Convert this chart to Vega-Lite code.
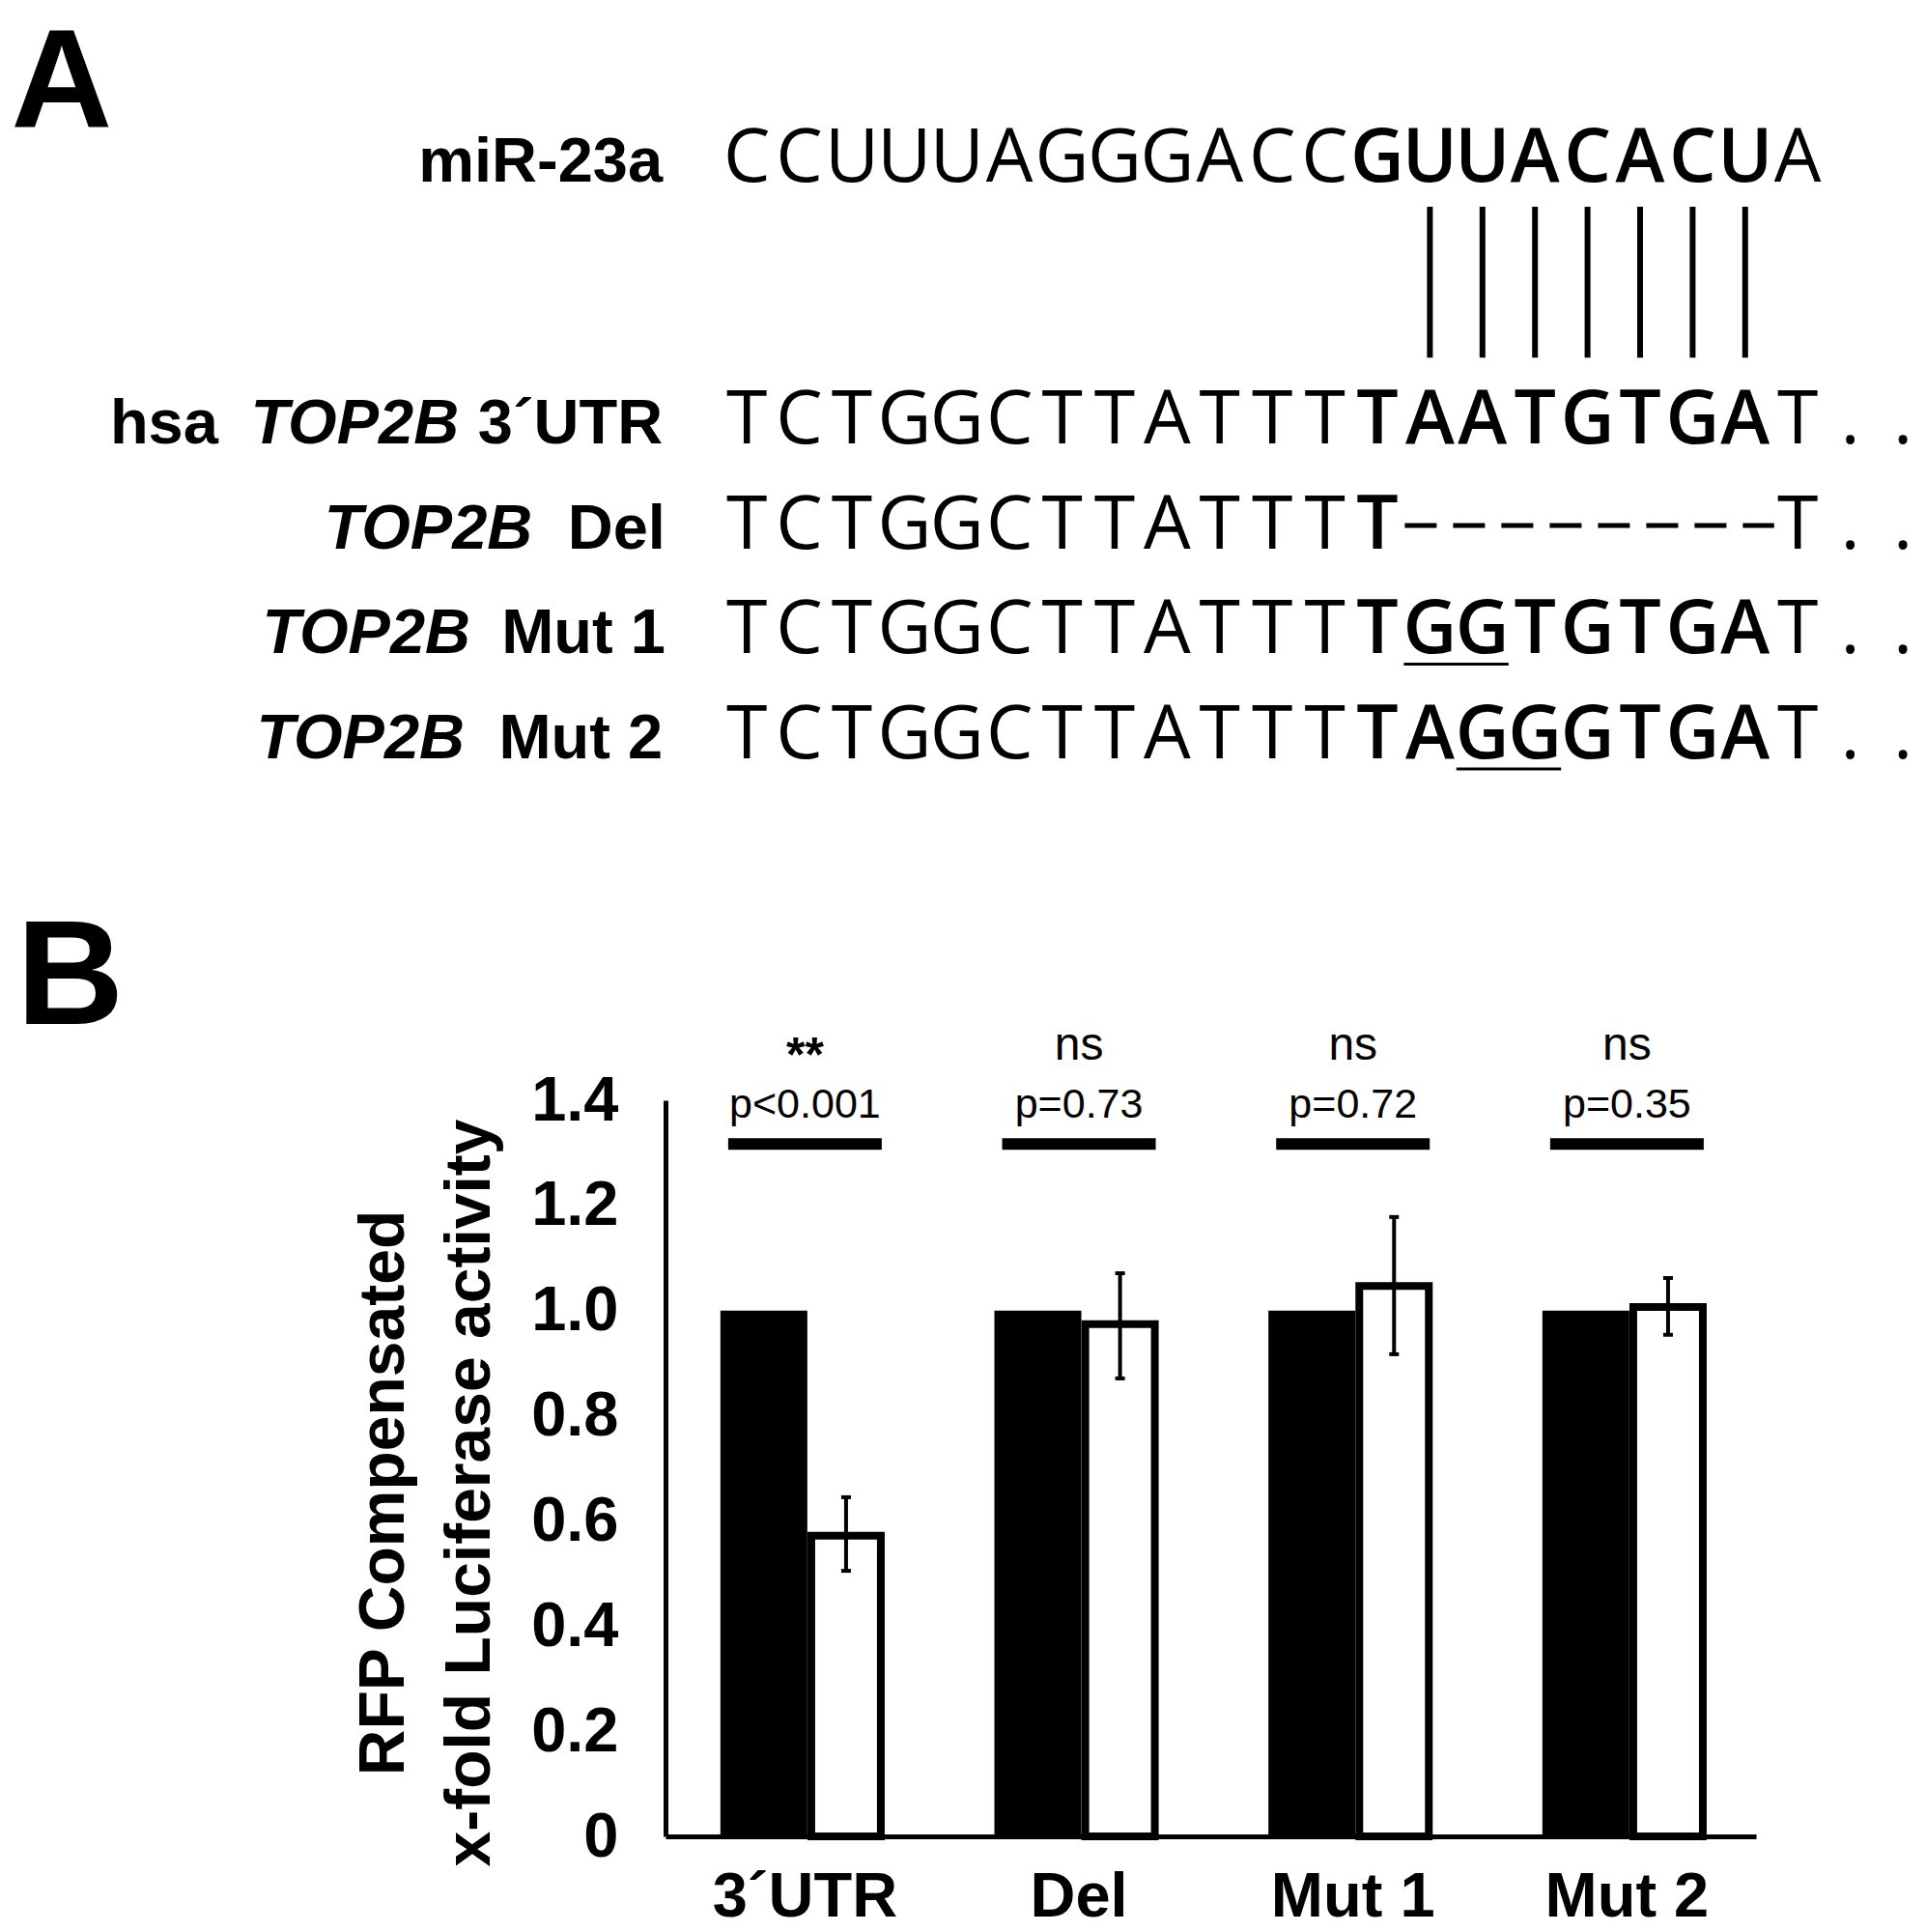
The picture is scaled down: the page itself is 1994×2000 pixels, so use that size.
{
  "$schema": "https://vega.github.io/schema/vega-lite/v6.json",
  "width": 1994,
  "height": 2000,
  "autosize": "none",
  "padding": 0,
  "background": "white",
  "config": {"view": {"stroke": null}, "font": "Liberation Sans"},
  "datasets": {
    "panels": [
      {"panel": "A", "col": -14.0, "line": -0.525, "big": true},
      {"panel": "B", "col": -13.9, "line": 8.03, "big": false}
    ],
    "labels": [
      {"line": 0, "col": -1.6, "label": "miR-23a", "gene": false},
      {"line": 2.5, "col": -10.06, "label": "hsa", "gene": false},
      {"line": 2.5, "col": -5.48, "label": "TOP2B", "gene": true},
      {"line": 2.5, "col": -1.6, "label": "3´UTR", "gene": false},
      {"line": 3.5, "col": -4.08, "label": "TOP2B", "gene": true},
      {"line": 3.5, "col": -1.55, "label": "Del", "gene": false},
      {"line": 4.5, "col": -5.26, "label": "TOP2B", "gene": true},
      {"line": 4.5, "col": -1.55, "label": "Mut 1", "gene": false},
      {"line": 5.5, "col": -5.37, "label": "TOP2B", "gene": true},
      {"line": 5.5, "col": -1.6, "label": "Mut 2", "gene": false}
    ],
    "letters": [
      {"line": 0, "col": 0, "base": "C", "site": false},
      {"line": 0, "col": 1, "base": "C", "site": false},
      {"line": 0, "col": 2, "base": "U", "site": false},
      {"line": 0, "col": 3, "base": "U", "site": false},
      {"line": 0, "col": 4, "base": "U", "site": false},
      {"line": 0, "col": 5, "base": "A", "site": false},
      {"line": 0, "col": 6, "base": "G", "site": false},
      {"line": 0, "col": 7, "base": "G", "site": false},
      {"line": 0, "col": 8, "base": "G", "site": false},
      {"line": 0, "col": 9, "base": "A", "site": false},
      {"line": 0, "col": 10, "base": "C", "site": false},
      {"line": 0, "col": 11, "base": "C", "site": false},
      {"line": 0, "col": 12, "base": "G", "site": true},
      {"line": 0, "col": 13, "base": "U", "site": true},
      {"line": 0, "col": 14, "base": "U", "site": true},
      {"line": 0, "col": 15, "base": "A", "site": true},
      {"line": 0, "col": 16, "base": "C", "site": true},
      {"line": 0, "col": 17, "base": "A", "site": true},
      {"line": 0, "col": 18, "base": "C", "site": true},
      {"line": 0, "col": 19, "base": "U", "site": true},
      {"line": 0, "col": 20, "base": "A", "site": false},

      {"line": 2.5, "col": 0, "base": "T", "site": false},
      {"line": 2.5, "col": 1, "base": "C", "site": false},
      {"line": 2.5, "col": 2, "base": "T", "site": false},
      {"line": 2.5, "col": 3, "base": "G", "site": false},
      {"line": 2.5, "col": 4, "base": "G", "site": false},
      {"line": 2.5, "col": 5, "base": "C", "site": false},
      {"line": 2.5, "col": 6, "base": "T", "site": false},
      {"line": 2.5, "col": 7, "base": "T", "site": false},
      {"line": 2.5, "col": 8, "base": "A", "site": false},
      {"line": 2.5, "col": 9, "base": "T", "site": false},
      {"line": 2.5, "col": 10, "base": "T", "site": false},
      {"line": 2.5, "col": 11, "base": "T", "site": false},
      {"line": 2.5, "col": 12, "base": "T", "site": true},
      {"line": 2.5, "col": 13, "base": "A", "site": true},
      {"line": 2.5, "col": 14, "base": "A", "site": true},
      {"line": 2.5, "col": 15, "base": "T", "site": true},
      {"line": 2.5, "col": 16, "base": "G", "site": true},
      {"line": 2.5, "col": 17, "base": "T", "site": true},
      {"line": 2.5, "col": 18, "base": "G", "site": true},
      {"line": 2.5, "col": 19, "base": "A", "site": true},
      {"line": 2.5, "col": 20, "base": "T", "site": false},
      {"line": 2.5, "col": 21, "base": ".", "site": false},
      {"line": 2.5, "col": 22, "base": ".", "site": false},

      {"line": 3.5, "col": 0, "base": "T", "site": false},
      {"line": 3.5, "col": 1, "base": "C", "site": false},
      {"line": 3.5, "col": 2, "base": "T", "site": false},
      {"line": 3.5, "col": 3, "base": "G", "site": false},
      {"line": 3.5, "col": 4, "base": "G", "site": false},
      {"line": 3.5, "col": 5, "base": "C", "site": false},
      {"line": 3.5, "col": 6, "base": "T", "site": false},
      {"line": 3.5, "col": 7, "base": "T", "site": false},
      {"line": 3.5, "col": 8, "base": "A", "site": false},
      {"line": 3.5, "col": 9, "base": "T", "site": false},
      {"line": 3.5, "col": 10, "base": "T", "site": false},
      {"line": 3.5, "col": 11, "base": "T", "site": false},
      {"line": 3.5, "col": 12, "base": "T", "site": true},
      {"line": 3.5, "col": 20, "base": "T", "site": false},
      {"line": 3.5, "col": 21, "base": ".", "site": false},
      {"line": 3.5, "col": 22, "base": ".", "site": false},

      {"line": 4.5, "col": 0, "base": "T", "site": false},
      {"line": 4.5, "col": 1, "base": "C", "site": false},
      {"line": 4.5, "col": 2, "base": "T", "site": false},
      {"line": 4.5, "col": 3, "base": "G", "site": false},
      {"line": 4.5, "col": 4, "base": "G", "site": false},
      {"line": 4.5, "col": 5, "base": "C", "site": false},
      {"line": 4.5, "col": 6, "base": "T", "site": false},
      {"line": 4.5, "col": 7, "base": "T", "site": false},
      {"line": 4.5, "col": 8, "base": "A", "site": false},
      {"line": 4.5, "col": 9, "base": "T", "site": false},
      {"line": 4.5, "col": 10, "base": "T", "site": false},
      {"line": 4.5, "col": 11, "base": "T", "site": false},
      {"line": 4.5, "col": 12, "base": "T", "site": true},
      {"line": 4.5, "col": 13, "base": "G", "site": true},
      {"line": 4.5, "col": 14, "base": "G", "site": true},
      {"line": 4.5, "col": 15, "base": "T", "site": true},
      {"line": 4.5, "col": 16, "base": "G", "site": true},
      {"line": 4.5, "col": 17, "base": "T", "site": true},
      {"line": 4.5, "col": 18, "base": "G", "site": true},
      {"line": 4.5, "col": 19, "base": "A", "site": true},
      {"line": 4.5, "col": 20, "base": "T", "site": false},
      {"line": 4.5, "col": 21, "base": ".", "site": false},
      {"line": 4.5, "col": 22, "base": ".", "site": false},

      {"line": 5.5, "col": 0, "base": "T", "site": false},
      {"line": 5.5, "col": 1, "base": "C", "site": false},
      {"line": 5.5, "col": 2, "base": "T", "site": false},
      {"line": 5.5, "col": 3, "base": "G", "site": false},
      {"line": 5.5, "col": 4, "base": "G", "site": false},
      {"line": 5.5, "col": 5, "base": "C", "site": false},
      {"line": 5.5, "col": 6, "base": "T", "site": false},
      {"line": 5.5, "col": 7, "base": "T", "site": false},
      {"line": 5.5, "col": 8, "base": "A", "site": false},
      {"line": 5.5, "col": 9, "base": "T", "site": false},
      {"line": 5.5, "col": 10, "base": "T", "site": false},
      {"line": 5.5, "col": 11, "base": "T", "site": false},
      {"line": 5.5, "col": 12, "base": "T", "site": true},
      {"line": 5.5, "col": 13, "base": "A", "site": true},
      {"line": 5.5, "col": 14, "base": "G", "site": true},
      {"line": 5.5, "col": 15, "base": "G", "site": true},
      {"line": 5.5, "col": 16, "base": "G", "site": true},
      {"line": 5.5, "col": 17, "base": "T", "site": true},
      {"line": 5.5, "col": 18, "base": "G", "site": true},
      {"line": 5.5, "col": 19, "base": "A", "site": true},
      {"line": 5.5, "col": 20, "base": "T", "site": false},
      {"line": 5.5, "col": 21, "base": ".", "site": false},
      {"line": 5.5, "col": 22, "base": ".", "site": false}
    ],
    "pairs": [
      {"col": 13, "line": 0, "line2": 2.5, "mir": "U", "target": "A"},
      {"col": 14, "line": 0, "line2": 2.5, "mir": "U", "target": "A"},
      {"col": 15, "line": 0, "line2": 2.5, "mir": "A", "target": "T"},
      {"col": 16, "line": 0, "line2": 2.5, "mir": "C", "target": "G"},
      {"col": 17, "line": 0, "line2": 2.5, "mir": "A", "target": "T"},
      {"col": 18, "line": 0, "line2": 2.5, "mir": "C", "target": "G"},
      {"col": 19, "line": 0, "line2": 2.5, "mir": "U", "target": "A"}
    ],
    "deletion": [{"line": 3.5, "col": 13, "col2": 19}],
    "mutations": [
      {"line": 4.5, "col": 13, "col2": 14, "construct": "Mut 1"},
      {"line": 5.5, "col": 14, "col2": 15, "construct": "Mut 2"}
    ],
    "luc": [
      {"construct": "3´UTR", "transfection": "control", "value": 1.0},
      {"construct": "3´UTR", "transfection": "miR-23a", "value": 0.572, "lo": 0.505, "hi": 0.645},
      {"construct": "Del", "transfection": "control", "value": 1.0},
      {"construct": "Del", "transfection": "miR-23a", "value": 0.974, "lo": 0.871, "hi": 1.071},
      {"construct": "Mut 1", "transfection": "control", "value": 1.0},
      {"construct": "Mut 1", "transfection": "miR-23a", "value": 1.047, "lo": 0.917, "hi": 1.178},
      {"construct": "Mut 2", "transfection": "control", "value": 1.0},
      {"construct": "Mut 2", "transfection": "miR-23a", "value": 1.007, "lo": 0.954, "hi": 1.062}
    ],
    "stats": [
      {"construct": "3´UTR", "sig": "**", "p": "p<0.001"},
      {"construct": "Del", "sig": "ns", "p": "p=0.73"},
      {"construct": "Mut 1", "sig": "ns", "p": "p=0.72"},
      {"construct": "Mut 2", "sig": "ns", "p": "p=0.35"}
    ]
  },
  "resolve": {"scale": {"x": "independent", "y": "independent"}},
  "layer": [
    {
      "encoding": {
        "x": {"field": "col", "type": "quantitative", "scale": {"domain": [0, 20], "range": [773.2, 1861.2], "nice": false, "zero": false}, "axis": null},
        "y": {"field": "line", "type": "quantitative", "scale": {"domain": [0, 5.5], "range": [188, 785], "nice": false, "zero": false}, "axis": null}
      },
      "layer": [
        {
          "data": {"name": "panels"},
          "transform": [{"filter": "datum.big"}],
          "mark": {"type": "text", "align": "left", "baseline": "alphabetic", "font": "Liberation Sans", "fontSize": 145, "fontWeight": "bold", "color": "black"},
          "encoding": {"text": {"field": "panel"}}
        },
        {
          "data": {"name": "panels"},
          "transform": [{"filter": "!datum.big"}],
          "mark": {"type": "text", "align": "left", "baseline": "alphabetic", "font": "Liberation Sans", "fontSize": 154, "fontWeight": "bold", "color": "black"},
          "encoding": {"text": {"field": "panel"}}
        },
        {
          "data": {"name": "labels"},
          "transform": [{"filter": "!datum.gene"}],
          "mark": {"type": "text", "align": "right", "baseline": "alphabetic", "font": "Liberation Sans", "fontSize": 65, "fontWeight": "bold", "color": "black"},
          "encoding": {"text": {"field": "label"}}
        },
        {
          "data": {"name": "labels"},
          "transform": [{"filter": "datum.gene"}],
          "mark": {"type": "text", "align": "right", "baseline": "alphabetic", "font": "Liberation Sans", "fontSize": 65, "fontWeight": "bold", "fontStyle": "italic", "color": "black"},
          "encoding": {"text": {"field": "label"}}
        },
        {
          "data": {"name": "letters"},
          "transform": [{"filter": "!datum.site"}],
          "mark": {"type": "text", "align": "center", "baseline": "alphabetic", "font": "Open Sans", "fontSize": 77, "color": "black"},
          "encoding": {"text": {"field": "base"}}
        },
        {
          "data": {"name": "letters"},
          "transform": [{"filter": "datum.site"}],
          "mark": {"type": "text", "align": "center", "baseline": "alphabetic", "font": "Open Sans", "fontSize": 77, "fontWeight": 600, "color": "black"},
          "encoding": {"text": {"field": "base"}}
        },
        {
          "data": {"name": "pairs"},
          "mark": {"type": "rule", "strokeWidth": 6, "color": "black", "yOffset": 26, "y2Offset": -89},
          "encoding": {"y2": {"field": "line2"}}
        },
        {
          "data": {"name": "deletion"},
          "mark": {"type": "rule", "strokeWidth": 5, "strokeDash": [33, 17], "color": "black", "xOffset": -26, "x2Offset": 30, "yOffset": -24},
          "encoding": {"x2": {"field": "col2"}}
        },
        {
          "data": {"name": "mutations"},
          "mark": {"type": "rule", "strokeWidth": 3, "color": "black", "xOffset": -27, "x2Offset": 27, "yOffset": 11},
          "encoding": {"x2": {"field": "col2"}}
        }
      ]
    },
    {
      "encoding": {
        "x": {
          "field": "construct", "type": "nominal",
          "sort": ["3´UTR", "Del", "Mut 1", "Mut 2"],
          "scale": {"range": [689, 1818], "paddingInner": 0.4, "paddingOuter": 0.19, "align": 0.55},
          "axis": {
            "title": null, "orient": "bottom", "offset": -99,
            "domainColor": "black", "domainWidth": 5, "ticks": false,
            "labelAngle": 0, "labelFont": "Liberation Sans", "labelFontSize": 65, "labelFontWeight": "bold",
            "labelColor": "black", "labelPadding": 31, "labelLimit": 0
          }
        }
      },
      "layer": [
        {
          "data": {"name": "luc"},
          "transform": [{"filter": "datum.transfection == 'control'"}],
          "mark": {"type": "bar", "width": 90, "color": "black"},
          "encoding": {
            "xOffset": {"field": "transfection", "type": "nominal", "scale": {"domain": ["control", "miR-23a"], "paddingInner": 0, "paddingOuter": 0}},
            "y": {
              "field": "value", "type": "quantitative",
              "scale": {"domain": [0, 1.4], "range": [1901, 1139], "nice": false, "zero": true},
              "axis": {
                "values": [0, 0.2, 0.4, 0.6, 0.8, 1.0, 1.2, 1.4],
                "labelExpr": "datum.value == 0 ? '0' : format(datum.value, '.1f')",
                "offset": -689, "grid": false, "ticks": false,
                "domainColor": "black", "domainWidth": 5,
                "labelFont": "Liberation Sans", "labelFontSize": 65, "labelFontWeight": "bold", "labelColor": "black",
                "labelPadding": 49, "labelOverlap": false, "labelFlush": false, "labelLimit": 0,
                "title": ["RFP Compensated", "x-fold Luciferase activity"],
                "titleFont": "Liberation Sans", "titleFontSize": 66, "titleFontWeight": "bold", "titleColor": "black",
                "titleLineHeight": 89, "titleX": -258, "titleY": 1545, "titleAngle": -90, "titleBaseline": "bottom", "titleAlign": "center"
              }
            }
          }
        },
        {
          "data": {"name": "luc"},
          "transform": [{"filter": "datum.transfection == 'miR-23a'"}],
          "mark": {"type": "bar", "width": 72, "fill": "white", "stroke": "black", "strokeWidth": 8},
          "encoding": {
            "xOffset": {"field": "transfection", "type": "nominal", "scale": {"domain": ["control", "miR-23a"], "paddingInner": 0, "paddingOuter": 0}},
            "y": {"field": "value", "type": "quantitative"}
          }
        },
        {
          "data": {"name": "luc"},
          "transform": [{"filter": "datum.transfection == 'miR-23a'"}],
          "mark": {"type": "rule", "strokeWidth": 4, "color": "black"},
          "encoding": {
            "xOffset": {"field": "transfection", "type": "nominal"},
            "y": {"field": "lo", "type": "quantitative"},
            "y2": {"field": "hi"}
          }
        },
        {
          "data": {"name": "luc"},
          "transform": [{"filter": "datum.transfection == 'miR-23a'"}],
          "mark": {"type": "tick", "orient": "horizontal", "size": 10, "thickness": 4, "color": "black", "opacity": 1},
          "encoding": {
            "xOffset": {"field": "transfection", "type": "nominal"},
            "y": {"field": "lo", "type": "quantitative"}
          }
        },
        {
          "data": {"name": "luc"},
          "transform": [{"filter": "datum.transfection == 'miR-23a'"}],
          "mark": {"type": "tick", "orient": "horizontal", "size": 10, "thickness": 4, "color": "black", "opacity": 1},
          "encoding": {
            "xOffset": {"field": "transfection", "type": "nominal"},
            "y": {"field": "hi", "type": "quantitative"}
          }
        },
        {
          "data": {"name": "stats"},
          "mark": {"type": "tick", "orient": "horizontal", "size": 159, "thickness": 12, "color": "black", "opacity": 1},
          "encoding": {"y": {"datum": 1.317, "type": "quantitative"}}
        },
        {
          "data": {"name": "stats"},
          "mark": {"type": "text", "align": "center", "baseline": "alphabetic", "font": "'Liberation Sans Narrow', 'Liberation Sans'", "fontSize": 43, "color": "black"},
          "encoding": {"y": {"datum": 1.367, "type": "quantitative"}, "text": {"field": "p"}}
        },
        {
          "data": {"name": "stats"},
          "transform": [{"filter": "datum.sig == 'ns'"}],
          "mark": {"type": "text", "align": "center", "baseline": "alphabetic", "font": "Liberation Sans", "fontSize": 48, "color": "black"},
          "encoding": {"y": {"datum": 1.478, "type": "quantitative"}, "text": {"field": "sig"}}
        },
        {
          "data": {"name": "stats"},
          "transform": [{"filter": "datum.sig != 'ns'"}],
          "mark": {"type": "text", "align": "center", "baseline": "alphabetic", "font": "Liberation Sans", "fontSize": 50, "fontWeight": "bold", "color": "black"},
          "encoding": {"y": {"datum": 1.455, "type": "quantitative"}, "text": {"field": "sig"}}
        }
      ]
    }
  ]
}
